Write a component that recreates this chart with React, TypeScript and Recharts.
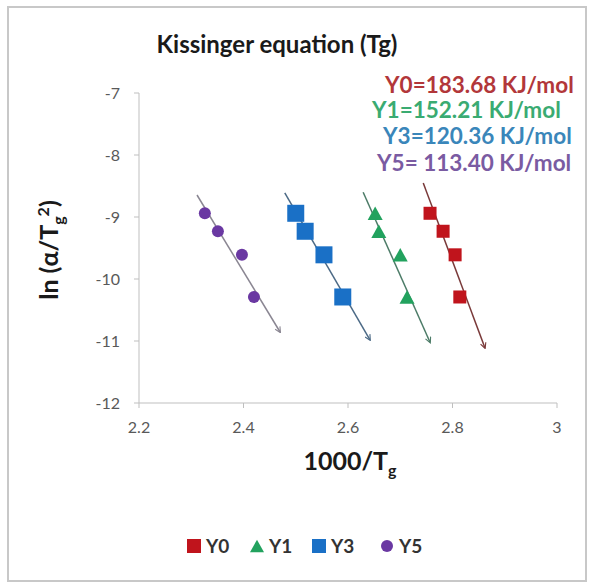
import React from 'react';
import { ScatterChart, Scatter, XAxis, YAxis } from 'recharts';

// measured points, ln(a/Tg^2) vs 1000/Tg
const yPoints = [-8.94, -9.23, -9.61, -10.29];
const xY0 = [2.757, 2.782, 2.805, 2.814];
const xY1 = [2.652, 2.659, 2.700, 2.713];
const xY3 = [2.500, 2.518, 2.554, 2.590];
const xY5 = [2.326, 2.351, 2.397, 2.420];

// fitted lines (start / end)
const fitY0 = [[2.744, -8.45], [2.862, -11.11]];
const fitY1 = [[2.629, -8.60], [2.757, -11.02]];
const fitY3 = [[2.479, -8.61], [2.642, -10.98]];
const fitY5 = [[2.311, -8.645], [2.470, -10.855]];

const xTicks = [2.2, 2.4, 2.6, 2.8, 3];
const yTicks = [-12, -11, -10, -9, -8, -7];

const seriesNames = ['Y0', 'Y1', 'Y3', 'Y5'];
const energies = ['Y0=183.68 KJ/mol', 'Y1=152.21 KJ/mol', 'Y3=120.36 KJ/mol', 'Y5= 113.40 KJ/mol'];

const toPoints = (xs: number[]) => xs.map((x, i) => ({ x, y: yPoints[i] }));
const toLine = (f: number[][]) => f.map(([x, y]) => ({ x, y }));

const series = [
  { name: 'Y0', pts: toPoints(xY0), fit: toLine(fitY0), color: '#c0141c', line: '#7a3a3a', text: '#b2373a', shape: 'square', size: 13 },
  { name: 'Y1', pts: toPoints(xY1), fit: toLine(fitY1), color: '#22a25e', line: '#4d7c68', text: '#3aab72', shape: 'triangle', size: 15 },
  { name: 'Y3', pts: toPoints(xY3), fit: toLine(fitY3), color: '#1a70c6', line: '#4c6a86', text: '#3a86ba', shape: 'square', size: 17 },
  { name: 'Y5', pts: toPoints(xY5), fit: toLine(fitY5), color: '#6a38a2', line: '#8a8692', text: '#7a5ba2', shape: 'circle', size: 12 },
];

const FONT = 'Lato, "Open Sans", sans-serif';

const Marker = ({ kind, cx, cy, s, fill }: any) => {
  if (kind === 'square') return <rect x={cx - s / 2} y={cy - s / 2} width={s} height={s} fill={fill} />;
  if (kind === 'triangle') {
    const h = s * 0.9;
    return <polygon points={`${cx},${cy - h / 2} ${cx + s / 2},${cy + h / 2} ${cx - s / 2},${cy + h / 2}`} fill={fill} />;
  }
  return <circle cx={cx} cy={cy} r={s / 2} fill={fill} />;
};

const legendX = [187, 250, 312, 380];
const annoPos = [
  { x: 385, y: 93 },
  { x: 372, y: 118 },
  { x: 383, y: 144 },
  { x: 377, y: 171 },
];

export default function App() {
  return (
    <div style={{ position: 'absolute', left: 0, top: 0, width: 591, height: 583, background: '#fff' }}>
      <svg width={0} height={0} style={{ position: 'absolute' }}>
        <defs>
          {series.map((s) => (
            <marker key={s.name} id={`arr-${s.name}`} viewBox="0 0 10 10" refX="8" refY="5"
              markerWidth="7" markerHeight="7" markerUnits="userSpaceOnUse" orient="auto">
              <path d="M1,1 L9,5 L1,9" fill="none" stroke={s.line} strokeWidth="1.6" />
            </marker>
          ))}
        </defs>
      </svg>
      <ScatterChart width={591} height={583} margin={{ top: 93, right: 34, bottom: 150, left: 79 }}>
        <XAxis type="number" dataKey="x" domain={[2.2, 3]} ticks={xTicks} allowDataOverflow
          stroke="#bfbfbf" tickSize={5} tickMargin={14} height={30}
          tick={{ fill: '#595959', fontSize: 16, fontFamily: FONT }} />
        <YAxis type="number" dataKey="y" domain={[-12, -7]} ticks={yTicks} allowDataOverflow
          stroke="#bfbfbf" tickSize={5} tickMargin={14} width={60}
          tick={{ fill: '#595959', fontSize: 16, fontFamily: FONT }} />
        {series.map((s) => (
          <Scatter key={`fit-${s.name}`} data={s.fit} isAnimationActive={false} legendType="none"
            line={{ stroke: s.line, strokeWidth: 1.5, markerEnd: `url(#arr-${s.name})` }}
            shape={() => <g />} />
        ))}
        {series.map((s) => (
          <Scatter key={s.name} name={s.name} data={s.pts} fill={s.color} isAnimationActive={false}
            shape={(p: any) => <Marker kind={s.shape} cx={p.cx} cy={p.cy} s={s.size} fill={s.color} />} />
        ))}
      </ScatterChart>
      <svg width={591} height={583} style={{ position: 'absolute', left: 0, top: 0, pointerEvents: 'none' }}>
        <rect x={8} y={7} width={578} height={574} fill="none" stroke="#c8c8c8" strokeWidth={2} />
        <text x={277} y={53} textAnchor="middle" fontFamily={FONT} fontWeight={700} fontSize={24} fill="#1a1a1a">
          Kissinger equation (Tg)
        </text>
        <text transform="translate(58,250) rotate(-90)" textAnchor="middle" fontFamily={FONT} fontWeight={700} fontSize={25} fill="#1a1a1a">
          ln (α/T<tspan dy={6} fontSize={16}>g</tspan><tspan dy={-15} fontSize={16}>2</tspan><tspan dy={9}>)</tspan>
        </text>
        <text x={350} y={470} textAnchor="middle" fontFamily={FONT} fontWeight={700} fontSize={25} fill="#1a1a1a">
          1000/T<tspan dy={6} fontSize={16}>g</tspan>
        </text>
        {energies.map((t, i) => (
          <text key={t} x={annoPos[i].x} y={annoPos[i].y} fontFamily={FONT} fontWeight={700} fontSize={22.5} fill={series[i].text}>
            {t}
          </text>
        ))}
        {series.map((s, i) => (
          <g key={`lg-${s.name}`}>
            <Marker kind={s.shape} cx={legendX[i] + 7} cy={546} s={s.shape === 'circle' ? 12 : 14} fill={s.color} />
            <text x={legendX[i] + 19} y={553} fontFamily={FONT} fontWeight={700} fontSize={19} fill="#333333">
              {seriesNames[i]}
            </text>
          </g>
        ))}
      </svg>
    </div>
  );
}
